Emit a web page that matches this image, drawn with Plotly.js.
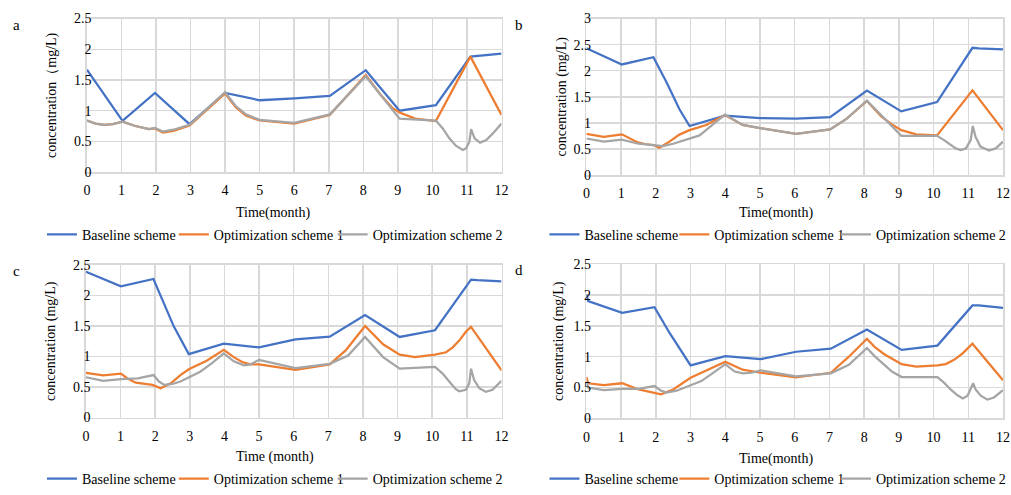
<!DOCTYPE html>
<html>
<head>
<meta charset="utf-8">
<script src="https://cdn.plot.ly/plotly-3.0.1.min.js"></script>
<style>html,body{margin:0;padding:0;background:#fff}#chart{width:1011px;height:495px}</style>
</head>
<body>
<div id="chart"></div>
<script>
// ---------- data (months, concentration mg/L) ----------
const seriesNames = ["Baseline scheme", "Optimization scheme 1", "Optimization scheme 2"];
const panelLabels = ["a", "b", "c", "d"];
const xTitles = ["Time(month)", "Time(month)", "Time (month)", "Time(month)"];
const yTitles = ["concentration（mg/L)", "concentration (mg/L)", "concentration (mg/L)", "concentration (mg/L)"];
const monthTicks = [0,1,2,3,4,5,6,7,8,9,10,11,12];

// panel a
const aBaseX = [0,1.03,1.97,2.97,4,5,6.01,7.03,8.07,9.05,10.1,11.1,12];
const aBaseY = [1.67,0.835,1.29,0.78,1.29,1.17,1.20,1.24,1.66,1.00,1.09,1.88,1.93];
const aOpt1X = [0,0.25,0.5,0.75,1.03,1.4,1.8,1.97,2.2,2.5,2.97,4,4.3,4.6,5,6,7.03,8.07,8.5,8.85,9.05,9.5,10.1,11.1,12];
const aOpt1Y = [0.84,0.79,0.77,0.78,0.82,0.75,0.70,0.71,0.645,0.67,0.76,1.28,1.06,0.92,0.84,0.79,0.93,1.58,1.26,1.04,0.97,0.87,0.83,1.88,0.93];
const aOpt2X = [0,0.25,0.5,0.75,1.03,1.4,1.8,1.97,2.2,2.5,2.97,4,4.3,4.6,5,6,7.03,8.07,9.05,10.1,10.3,10.49,10.68,10.88,10.97,11.07,11.12,11.22,11.38,11.56,11.75,12];
const aOpt2Y = [0.84,0.79,0.77,0.78,0.82,0.75,0.70,0.72,0.66,0.69,0.77,1.30,1.08,0.94,0.85,0.80,0.94,1.56,0.87,0.84,0.71,0.55,0.43,0.36,0.385,0.49,0.70,0.55,0.48,0.52,0.63,0.79];

// panel b
const bBaseX = [0,1.02,1.93,2.3,2.68,2.97,3.99,5,6.04,7.02,8.08,9.07,10.1,11.12,11.3,12];
const bBaseY = [2.43,2.12,2.26,1.79,1.26,0.94,1.14,1.09,1.08,1.11,1.62,1.22,1.40,2.44,2.43,2.41];
const bOpt1X = [0,0.5,1.02,1.24,1.48,1.72,1.93,2.1,2.39,2.68,2.97,3.45,3.99,4.5,5,6.04,7.02,7.5,8.08,8.5,8.8,9.07,9.5,10.1,11.12,12];
const bOpt1Y = [0.79,0.73,0.78,0.70,0.625,0.59,0.575,0.525,0.64,0.775,0.86,0.96,1.15,0.96,0.90,0.79,0.875,1.08,1.42,1.12,0.97,0.86,0.78,0.76,1.625,0.86];
const bOpt2X = [0,0.5,1.02,1.5,1.93,2.2,2.5,2.97,3.26,3.55,3.79,3.99,4.5,5,6.04,7.02,7.5,8.08,9.07,10.1,10.3,10.49,10.64,10.78,10.93,11.07,11.13,11.21,11.35,11.6,11.79,12];
const bOpt2Y = [0.70,0.64,0.68,0.60,0.575,0.555,0.60,0.70,0.76,0.92,1.06,1.16,0.96,0.90,0.79,0.875,1.08,1.43,0.75,0.75,0.67,0.575,0.51,0.48,0.51,0.67,0.94,0.73,0.545,0.47,0.51,0.64];

// panel c
const cBaseX = [0,1.01,1.95,2.16,2.54,2.97,3.98,5,6.05,7.04,8.06,9.06,10.08,11.12,11.3,12];
const cBaseY = [2.39,2.15,2.27,2.00,1.49,1.04,1.21,1.15,1.28,1.325,1.68,1.32,1.43,2.26,2.25,2.23];
const cOpt1X = [0,0.5,1.01,1.2,1.44,1.73,1.92,2.16,2.45,2.73,2.97,3.5,3.98,4.27,4.51,4.75,5,6.05,7.04,7.5,8.06,8.58,9.06,9.5,10.08,10.4,10.59,10.78,10.97,11.12,12];
const cOpt1Y = [0.73,0.69,0.72,0.64,0.57,0.545,0.535,0.48,0.56,0.695,0.79,0.935,1.11,0.99,0.91,0.87,0.87,0.78,0.87,1.10,1.50,1.20,1.03,0.99,1.03,1.07,1.15,1.26,1.405,1.485,0.775];
const cOpt2X = [0,0.5,1.01,1.5,1.95,2.11,2.26,2.5,2.73,2.97,3.3,3.64,3.98,4.27,4.56,4.75,5,6.05,7.04,7.57,8.06,8.58,9.06,10.08,10.3,10.49,10.68,10.78,10.97,11.07,11.12,11.21,11.36,11.55,11.74,12];
const cOpt2Y = [0.66,0.60,0.63,0.64,0.695,0.59,0.535,0.55,0.59,0.66,0.75,0.89,1.05,0.92,0.855,0.87,0.945,0.81,0.88,1.015,1.32,0.99,0.80,0.83,0.72,0.59,0.465,0.43,0.455,0.56,0.80,0.615,0.48,0.42,0.455,0.60];

// panel d
const dBaseX = [0,0.05,1.03,1.96,2.4,3.0,4.0,5.02,6.04,7.04,8.08,9.08,10.11,11.12,11.3,12];
const dBaseY = [2.01,1.90,1.71,1.80,1.38,0.86,1.01,0.96,1.08,1.13,1.44,1.11,1.18,1.83,1.83,1.79];
const dOpt1X = [0,0.05,0.5,1.03,1.5,1.96,2.15,2.5,3.0,3.5,4.0,4.5,5.02,6.04,7.04,7.56,8.08,8.3,8.58,9.08,9.5,10.11,10.35,10.59,10.83,11.12,12];
const dOpt1Y = [0.67,0.57,0.54,0.57,0.47,0.42,0.39,0.47,0.66,0.79,0.92,0.79,0.74,0.665,0.74,1.0,1.29,1.16,1.04,0.88,0.84,0.86,0.88,0.95,1.05,1.21,0.62];
const dOpt2X = [0,0.05,0.5,1.03,1.5,1.96,2.15,2.3,2.6,3.0,3.31,3.64,4.0,4.27,4.51,4.75,5.02,6.04,7.04,7.56,8.08,8.3,8.58,8.8,9.08,10.11,10.3,10.49,10.68,10.84,10.98,11.07,11.14,11.21,11.36,11.55,11.74,12];
const dOpt2Y = [0.60,0.50,0.46,0.48,0.48,0.525,0.45,0.42,0.45,0.54,0.605,0.735,0.88,0.76,0.73,0.74,0.78,0.68,0.73,0.87,1.14,1.01,0.87,0.76,0.67,0.67,0.58,0.47,0.38,0.325,0.37,0.47,0.57,0.47,0.37,0.305,0.34,0.46];

const yMax = [2.5, 3, 2.5, 2.5];

// ---------- styling ----------
const colors = ["#4472C4", "#ED7D31", "#A5A5A5"];
const FONT = "Liberation Serif, Times New Roman, serif";
const W = 1011, H = 495;
// plot areas in pixels [left, right, top, bottom]
const boxes = [[87,502,19,176],[587,1004,19,179],[86,502,271,427],[587,1004,270,428]];
// legend text start x per series, legend row y
const legendTextX = [[82,214,373],[585,715,877],[82,214,373],[585,715,877]];
const legendY = [240,240,490,490];
const xTitlePos = [[273,218],[777,218],[275,467],[777,469]];
const letterPos = [[17,26],[520,26],[17,277],[520,276]];
const yTitleStandoff = [14,3,14,6];

const panels = [
  [[aBaseX,aBaseY],[aOpt1X,aOpt1Y],[aOpt2X,aOpt2Y]],
  [[bBaseX,bBaseY],[bOpt1X,bOpt1Y],[bOpt2X,bOpt2Y]],
  [[cBaseX,cBaseY],[cOpt1X,cOpt1Y],[cOpt2X,cOpt2Y]],
  [[dBaseX,dBaseY],[dOpt1X,dOpt1Y],[dOpt2X,dOpt2Y]]
];

const traces = [];
const layout = {
  width: W, height: H,
  margin: {l:0, r:0, t:0, b:0},
  paper_bgcolor: "#fff", plot_bgcolor: "#fff",
  font: {family: FONT, size: 14, color: "#000"},
  showlegend: true,
  annotations: []
};

let legendIndex = 0;
panels.forEach((p, i) => {
  const n = i === 0 ? "" : String(i + 1);
  p.forEach((s, k) => {
    legendIndex += 1;
    const legendName = legendIndex === 1 ? "legend" : "legend" + legendIndex;
    traces.push({
      type: "scatter", mode: "lines",
      x: s[0], y: s[1],
      name: seriesNames[k],
      xaxis: "x" + n, yaxis: "y" + n,
      legend: legendName,
      line: {color: colors[k], width: 2.25},
      hoverinfo: "skip"
    });
    layout[legendName] = {
      orientation: "h", x: (legendTextX[i][k] - 40) / W, y: 1 - legendY[i] / H,
      xanchor: "left", yanchor: "middle",
      bgcolor: "rgba(0,0,0,0)", borderwidth: 0,
      font: {family: FONT, size: 14, color: "#000"}, itemwidth: 30
    };
  });
  const b = boxes[i];
  const common = {
    showgrid: true, gridcolor: "#d9d9d9", gridwidth: 1.5,
    showline: true, linecolor: "#d9d9d9", linewidth: 1.5, mirror: true,
    zeroline: false, ticks: "", fixedrange: true,
    tickfont: {family: FONT, size: 14, color: "#000"}
  };
  layout["xaxis" + n] = Object.assign({}, common, {
    domain: [b[0]/W, b[1]/W], anchor: "y" + n,
    range: [0, 12], tickvals: monthTicks, ticktext: monthTicks.map(String),
    ticklabelstandoff: 5
  });
  layout["yaxis" + n] = Object.assign({}, common, {
    domain: [1 - b[3]/H, 1 - b[2]/H], anchor: "x" + n,
    range: [0, yMax[i]], dtick: 0.5, tick0: 0,
    ticklabelstandoff: -9,
    title: {text: yTitles[i], font: {family: FONT, size: 14, color: "#000"}, standoff: yTitleStandoff[i]}
  });
  layout.annotations.push({
    xref: "paper", yref: "paper", x: xTitlePos[i][0]/W, y: 1 - xTitlePos[i][1]/H,
    xanchor: "center", yanchor: "middle", showarrow: false,
    text: xTitles[i], font: {family: FONT, size: 14, color: "#000"}
  });
  layout.annotations.push({
    xref: "paper", yref: "paper", x: letterPos[i][0]/W, y: 1 - letterPos[i][1]/H,
    xanchor: "center", yanchor: "middle", showarrow: false,
    text: panelLabels[i], font: {family: FONT, size: 15, color: "#000"}
  });
});

Plotly.newPlot("chart", traces, layout, {staticPlot: true, displayModeBar: false});
</script>
</body>
</html>
